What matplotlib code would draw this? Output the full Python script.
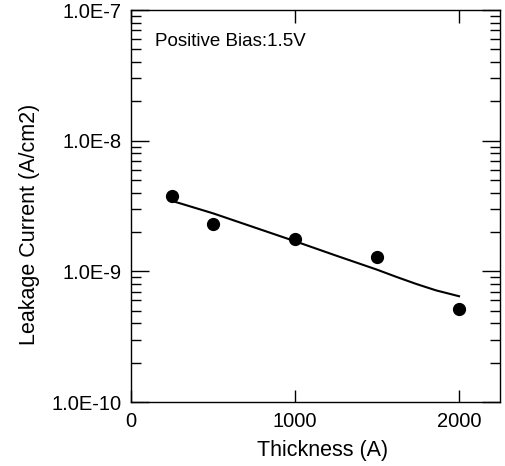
import matplotlib
matplotlib.use("Agg")
import matplotlib.pyplot as plt
from matplotlib.ticker import LogLocator, FixedLocator, NullFormatter

plt.rcParams['font.family'] = ['Liberation Sans', 'DejaVu Sans']

# measured data
thickness = [250, 500, 1000, 1500, 2000]
leakage = [3.8e-9, 2.29e-9, 1.78e-9, 1.28e-9, 5.13e-10]

# fitted curve as drawn
fit_x = [250, 500, 1000, 1250, 1500, 1620, 1740, 1860, 2000]
fit_y = [3.46e-9, 2.78e-9, 1.70e-9, 1.32e-9, 1.03e-9, 9.05e-10, 8.0e-10, 7.15e-10, 6.45e-10]

x_ticks = [0, 1000, 2000]
y_ticks = [1e-10, 1e-9, 1e-8, 1e-7]
y_tick_labels = ["1.0E-10", "1.0E-9", "1.0E-8", "1.0E-7"]

fig = plt.figure(figsize=(5.06, 4.66), dpi=100)
ax = fig.add_axes([131/506, 64/466, 369/506, 392/466])

ax.plot(fit_x, fit_y, color='black', lw=1.5)
ax.plot(thickness, leakage, 'o', color='black', ms=8.5)

ax.set_yscale('log')
ax.set_xlim(0, 2250)
ax.set_ylim(1e-10, 1e-7)

ax.xaxis.set_major_locator(FixedLocator(x_ticks))
ax.set_yticks(y_ticks)
ax.set_yticklabels(y_tick_labels)
ax.yaxis.set_minor_locator(LogLocator(base=10, subs=range(2, 10)))
ax.yaxis.set_minor_formatter(NullFormatter())

ax.tick_params(axis='x', which='major', direction='in', length=9, width=1,
               top=True, bottom=True, labelsize=14.5, pad=7)
ax.tick_params(axis='y', which='major', direction='in', length=13, width=1,
               left=True, right=True, labelsize=14.5, pad=7)
ax.tick_params(axis='y', which='minor', direction='in', length=7, width=1,
               left=True, right=True)

for s in ax.spines.values():
    s.set_linewidth(1.0)

ax.set_xlabel("Thickness (A)", fontsize=15.5)
ax.set_ylabel("Leakage Current (A/cm2)", fontsize=15.5)
ax.xaxis.set_label_coords(0.518, -0.097)
ax.yaxis.set_label_coords(-0.246, 0.454)

ax.text(0.065, 0.92, "Positive Bias:1.5V", transform=ax.transAxes,
        fontsize=13.5, ha='left', va='center')

fig.savefig("out.png", dpi=100)
